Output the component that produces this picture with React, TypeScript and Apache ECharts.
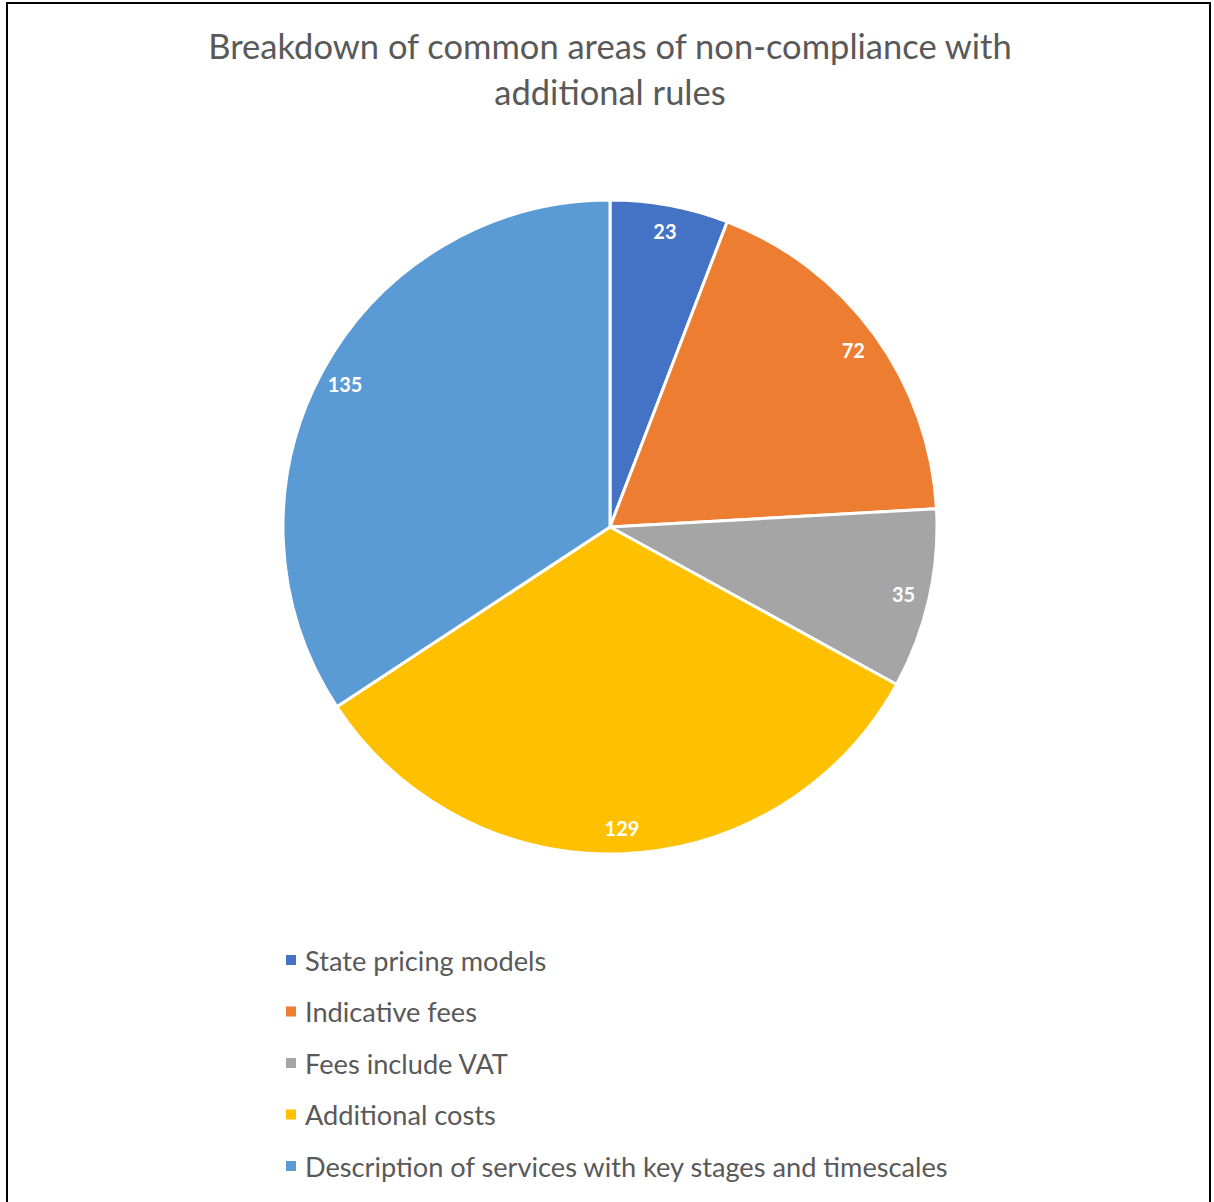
import React, { useEffect, useRef } from "react";
import * as echarts from "echarts";

const categories = [
  "State pricing models",
  "Indicative fees",
  "Fees include VAT",
  "Additional costs",
  "Description of services with key stages and timescales",
];
const values = [23, 72, 35, 129, 135];
const colors = ["#4472C4", "#ED7D31", "#A5A5A5", "#FFC000", "#5B9BD5"];
const titleText = "Breakdown of common areas of non-compliance with\nadditional rules";

const FONT = "Lato, 'Open Sans', sans-serif";

export default function App() {
  const ref = useRef<HTMLDivElement>(null);
  useEffect(() => {
    document.body.style.margin = "0";
    const chart = echarts.init(ref.current!, null, { renderer: "svg" });
    const data = categories.map((name, i) => ({
      name,
      value: values[i],
      itemStyle: { color: colors[i] },
    }));
    chart.setOption({
      animation: false,
      backgroundColor: "#ffffff",
      legend: {
        orient: "vertical",
        left: 279,
        top: 940,
        icon: "rect",
        itemWidth: 12,
        itemHeight: 12,
        itemGap: 21.5,
        data: categories,
        textStyle: {
          fontFamily: FONT,
          fontSize: 27.2,
          color: "#595959",
          lineHeight: 30,
          padding: [0, 0, 0, 3],
        },
      },
      graphic: [
        {
          type: "rect",
          shape: { x: 7, y: 3, width: 1203, height: 1220 },
          style: { fill: "none", stroke: "#000000", lineWidth: 2 },
          silent: true,
        },
        {
          type: "text",
          x: 610,
          y: 22,
          silent: true,
          style: {
            text: titleText,
            textAlign: "center",
            textVerticalAlign: "top",
            fontFamily: FONT,
            fontSize: 34.5,
            fontWeight: "normal",
            fill: "#595959",
            lineHeight: 46,
          },
        },
      ],
      series: [
        {
          type: "pie",
          center: [610, 527],
          radius: [0, 327],
          startAngle: 90,
          clockwise: true,
          data,
          label: { show: false },
          labelLine: { show: false },
          itemStyle: { borderColor: "#ffffff", borderWidth: 3 },
          emphasis: { disabled: true },
        },
        {
          type: "pie",
          center: [610, 527],
          radius: [269, 327],
          startAngle: 90,
          clockwise: true,
          silent: true,
          legendHoverLink: false,
          data: categories.map((name, i) => ({
            name: name + " ",
            value: values[i],
            itemStyle: { color: "rgba(0,0,0,0)" },
          })),
          label: {
            show: true,
            position: "inside",
            formatter: "{c}",
            fontFamily: FONT,
            fontSize: 20,
            fontWeight: "bold",
            color: "#ffffff",
          },
          labelLine: { show: false },
          emphasis: { disabled: true },
        },
      ],
    });
    return () => chart.dispose();
  }, []);
  return <div ref={ref} style={{ width: 1214, height: 1202 }} />;
}
